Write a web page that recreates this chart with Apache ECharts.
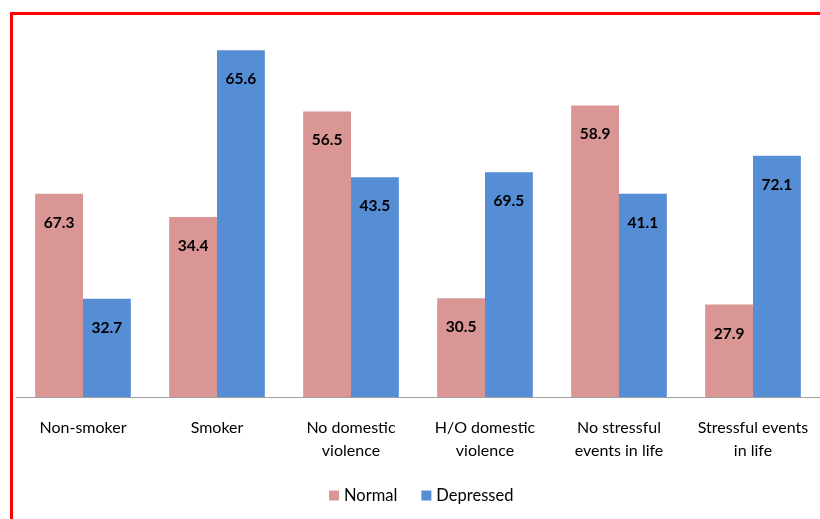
<!DOCTYPE html>
<html>
<head>
<meta charset="utf-8">
<script src="https://cdn.jsdelivr.net/npm/echarts@6/dist/echarts.min.js"></script>
<style>
  html, body { margin: 0; padding: 0; background: #fff; }
  #wrap { position: relative; width: 820px; height: 519px; overflow: hidden; }
  #frame {
    position: absolute; left: 10px; top: 12px; right: -10px; bottom: -10px;
    border-left: 3px solid #ff0000; border-top: 3px solid #ff0000;
  }
  #chart { position: absolute; left: 0; top: 0; width: 820px; height: 519px; }
</style>
</head>
<body>
<div id="wrap">
  <div id="frame"></div>
  <div id="chart"></div>
</div>
<script>
// categories
var categories = [
  "Non-smoker",
  "Smoker",
  "No domestic\nviolence",
  "H/O domestic\nviolence",
  "No stressful\nevents in life",
  "Stressful events\nin life"
];
// bar heights (counts, same scale for all bars)
var normalValues = [58.1, 51.4, 81.6, 28.2, 83.3, 26.4];
var depressedValues = [28.1, 99.1, 62.8, 64.2, 58.1, 68.9];
// percentage labels shown on the bars
var normalLabels = ["67.3", "34.4", "56.5", "30.5", "58.9", "27.9"];
var depressedLabels = ["32.7", "65.6", "43.5", "69.5", "41.1", "72.1"];

var font = "Lato, 'Open Sans', sans-serif";

var chart = echarts.init(document.getElementById("chart"));

function barLabel(texts) {
  return {
    show: true,
    position: "insideTop",
    distance: 21,
    fontFamily: font,
    fontWeight: "bold",
    fontSize: 15.5,
    color: "#000",
    formatter: function (p) { return texts[p.dataIndex]; }
  };
}

var option = {
  animation: false,
  backgroundColor: "transparent",
  grid: { left: 16, width: 806, top: 12, bottom: 122 },
  legend: {
    bottom: 10,
    left: 324,
    icon: "rect",
    itemWidth: 10,
    itemHeight: 10,
    itemGap: 24,
    textStyle: { fontFamily: font, fontSize: 16.5, color: "#000" },
    data: ["Normal", "Depressed"]
  },
  xAxis: {
    type: "category",
    data: categories,
    axisTick: { show: false },
    axisLine: { lineStyle: { color: "#a0a0a0", width: 1 } },
    axisLabel: {
      interval: 0,
      margin: 19,
      fontFamily: font,
      fontSize: 16,
      lineHeight: 23,
      color: "#000"
    }
  },
  yAxis: {
    type: "value",
    min: 0,
    max: 110,
    show: false,
    splitLine: { show: false }
  },
  series: [
    {
      name: "Normal",
      type: "bar",
      barGap: "0%",
      barCategoryGap: "28.6%",
      itemStyle: { color: "#d99694" },
      label: barLabel(normalLabels),
      data: normalValues
    },
    {
      name: "Depressed",
      type: "bar",
      itemStyle: { color: "#558ed5" },
      label: barLabel(depressedLabels),
      data: depressedValues
    }
  ]
};

chart.setOption(option);
</script>
</body>
</html>
